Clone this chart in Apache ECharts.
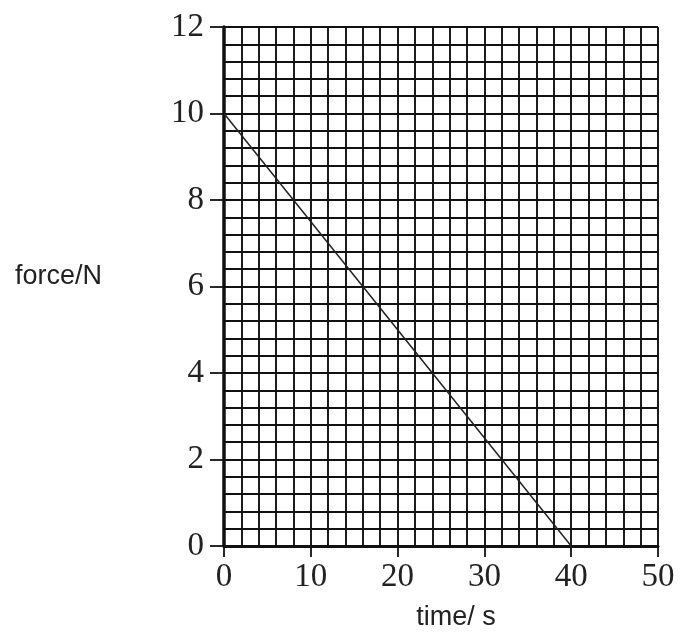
<!DOCTYPE html>
<html>
<head>
<meta charset="utf-8">
<script src="https://cdn.jsdelivr.net/npm/echarts@6/dist/echarts.min.js"></script>
<style>html,body{margin:0;padding:0;background:#fff}#c{width:680px;height:632px}</style>
</head>
<body>
<div id="c"></div>
<script>
const timeValues = [0, 40];
const forceValues = [10, 0];
const xAxisName = 'time/ s';
const yAxisName = 'force/N';

const chart = echarts.init(document.getElementById('c'));
const serif = '"Liberation Serif", "Times New Roman", serif';
const sans = '"Liberation Sans", Arial, sans-serif';
const gridLine = { color: '#111', width: 1.9 };
chart.setOption({
  animation: false,
  backgroundColor: '#fff',
  grid: { left: 224, right: 22, top: 27, bottom: 86, containLabel: false, outerBoundsMode: 'none' },
  xAxis: {
    type: 'value', min: 0, max: 50, interval: 10,
    name: xAxisName, nameLocation: 'middle', nameGap: 58,
    nameTextStyle: { fontFamily: sans, fontSize: 27, color: '#222', padding: [0, 0, 0, 30] },
    axisLine: { show: true, onZero: false, lineStyle: { color: '#111', width: 3 } },
    axisTick: { show: true, inside: false, length: 11, lineStyle: { color: '#111', width: 1.8 } },
    axisLabel: { margin: 15, fontFamily: serif, fontSize: 33, color: '#222' },
    splitLine: { show: true, lineStyle: gridLine },
    minorTick: { show: false, splitNumber: 5 },
    minorSplitLine: { show: true, lineStyle: gridLine }
  },
  yAxis: {
    type: 'value', min: 0, max: 12, interval: 2,
    name: yAxisName, nameLocation: 'middle', nameRotate: 0, nameGap: 209,
    nameTextStyle: { fontFamily: sans, fontSize: 27, color: '#222', align: 'left', verticalAlign: 'bottom', lineHeight: 20 },
    axisLine: { show: true, onZero: false, lineStyle: { color: '#111', width: 3.5 } },
    axisTick: { show: true, inside: false, length: 14, lineStyle: { color: '#111', width: 1.8 } },
    axisLabel: { margin: 20, fontFamily: serif, fontSize: 33, color: '#222' },
    splitLine: { show: true, lineStyle: gridLine },
    minorTick: { show: false, splitNumber: 5 },
    minorSplitLine: { show: true, lineStyle: gridLine }
  },
  series: [{
    type: 'line',
    data: timeValues.map((t, i) => [t, forceValues[i]]),
    symbol: 'none',
    lineStyle: { color: '#222', width: 1.5 }
  }]
});
</script>
</body>
</html>
